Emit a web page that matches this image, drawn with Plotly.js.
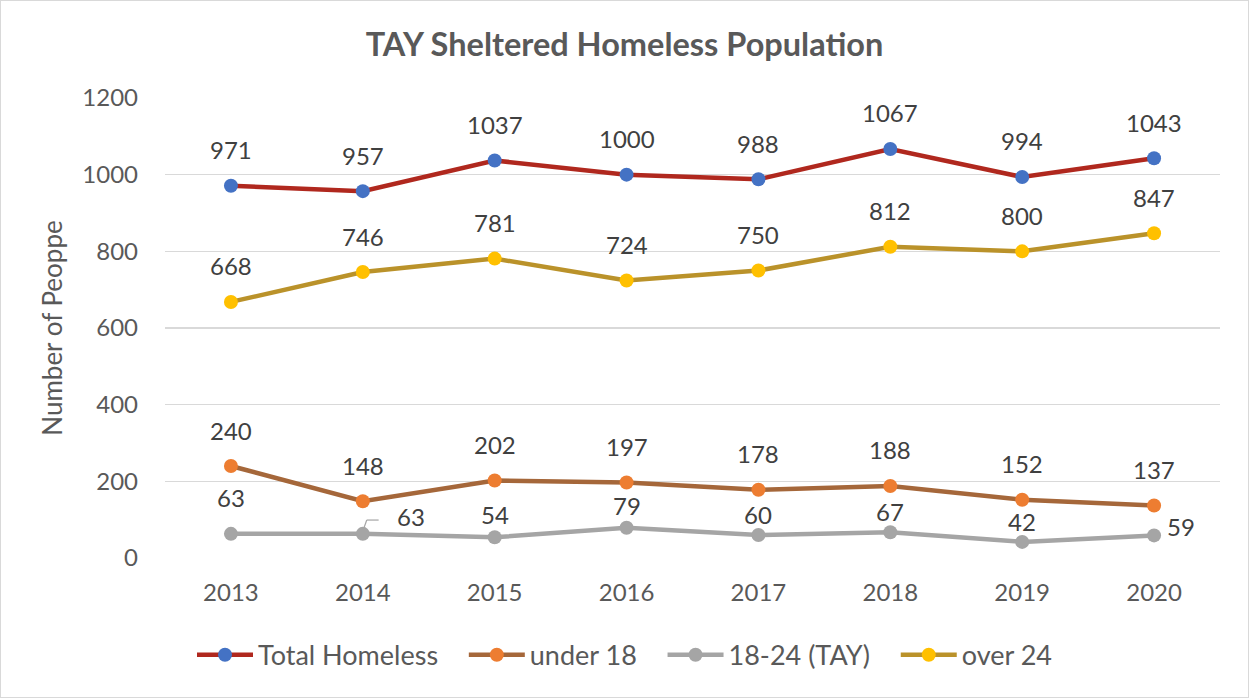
<!DOCTYPE html>
<html>
<head>
<meta charset="utf-8">
<script src="https://cdn.plot.ly/plotly-3.0.1.min.js"></script>
<style>
html,body{margin:0;padding:0;background:#fff;}
#wrap{width:1249px;height:698px;box-sizing:border-box;border:1px solid #d9d9d9;}
#chart{width:1247px;height:696px;}
</style>
</head>
<body>
<div id="wrap"><div id="chart"></div></div>
<script>
const years = ['2013','2014','2015','2016','2017','2018','2019','2020'];
const totalHomeless = [971, 957, 1037, 1000, 988, 1067, 994, 1043];
const under18 = [240, 148, 202, 197, 178, 188, 152, 137];
const tay = [63, 63, 54, 79, 60, 67, 42, 59];
const over24 = [668, 746, 781, 724, 750, 812, 800, 847];
const seriesNames = ['Total Homeless', 'under 18', '18-24 (TAY)', 'over 24'];

// label placement (pixel offsets from each point), style only
const defaultShift = [0, 36];
const tayShift = [[0, 36], [48, 17], [0, 23], [0, 22], [0, 21], [0, 21], [0, 20], [27, 9]];

const FONT = 'Lato, "Liberation Sans", sans-serif';
const labelFont = {family: FONT, size: 24, color: '#404040'};
const PAD = '\u00a0'.repeat(3);

function series(idx, y, lineColor, markerColor) {
  return {
    type: 'scatter', mode: 'lines+markers',
    name: seriesNames[idx] + (idx < seriesNames.length - 1 ? PAD : ''),
    x: years, y: y,
    line: {color: lineColor, width: 4.5},
    marker: {color: markerColor, size: 14},
    cliponaxis: false
  };
}

const data = [
  series(0, totalHomeless, '#B0281E', '#4472C4'),
  series(1, under18, '#A5673A', '#ED7D31'),
  series(2, tay, '#A5A5A5', '#A5A5A5'),
  series(3, over24, '#BA922A', '#FFC000')
];

const annotations = [];
function addLabels(y, shifts) {
  y.forEach((v, i) => {
    const s = shifts ? shifts[i] : defaultShift;
    annotations.push({
      x: i, y: v, xref: 'x', yref: 'y', text: String(v), showarrow: false,
      xshift: s[0], yshift: s[1], xanchor: 'center', yanchor: 'middle', font: labelFont
    });
  });
}
addLabels(totalHomeless);
addLabels(under18);
addLabels(tay, tayShift);
addLabels(over24);

const layout = {
  width: 1247, height: 696,
  margin: {l: 164, r: 28, t: 97, b: 139},
  paper_bgcolor: '#fff', plot_bgcolor: '#fff',
  font: {family: FONT, color: '#595959'},
  title: {text: '<b>TAY Sheltered Homeless Population</b>', x: 0.5, xref: 'container', xanchor: 'center',
          y: 0.938, yref: 'container', yanchor: 'middle',
          font: {size: 32.5, color: '#595959', family: FONT}},
  xaxis: {type: 'category', range: [-0.5, 7.5], autorange: false,
          showgrid: false, zeroline: false, showline: false, ticks: '',
          ticklabelstandoff: 18,
          tickfont: {size: 24, color: '#595959'}},
  yaxis: {range: [0, 1200], autorange: false, dtick: 200, showgrid: true, gridcolor: '#D9D9D9', gridwidth: 1.5,
          zeroline: false, showline: false, ticks: '',
          ticklabelstandoff: 26,
          tickfont: {size: 24, color: '#595959'},
          title: {text: 'Number of Peoppe', font: {size: 26, color: '#595959'}, standoff: 12}},
  legend: {orientation: 'h', xref: 'container', x: 0.5, xanchor: 'center',
           yref: 'container', y: 0.06, yanchor: 'middle',
           font: {size: 27, color: '#595959'}, itemwidth: 56, tracegroupgap: 0},
  showlegend: true,
  annotations: annotations,
  shapes: [
    {type: 'line', xref: 'x', yref: 'y', x0: 1.005, y0: 75, x1: 1.03, y1: 99, line: {color: '#A5A5A5', width: 1.2}},
    {type: 'line', xref: 'x', yref: 'y', x0: 1.03, y0: 99, x1: 1.12, y1: 99, line: {color: '#A5A5A5', width: 1.2}}
  ]
};

Plotly.newPlot('chart', data, layout, {displayModeBar: false, staticPlot: true});
</script>
</body>
</html>
